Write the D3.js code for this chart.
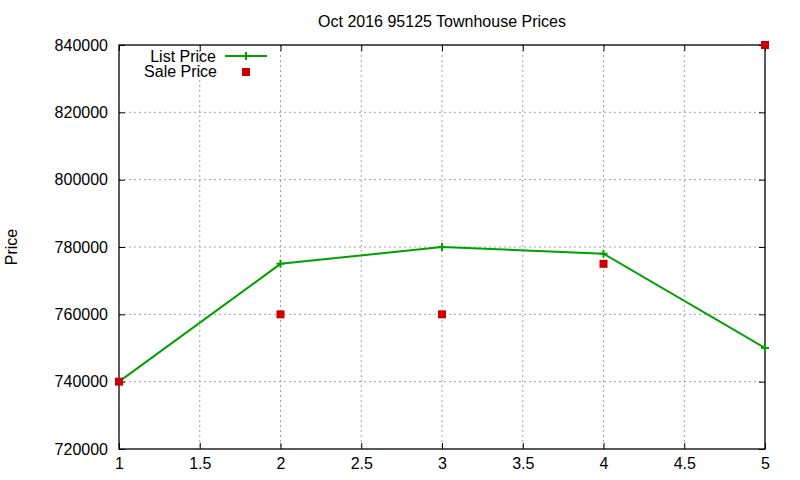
<!DOCTYPE html>
<html>
<head>
<meta charset="utf-8">
<script src="https://cdn.jsdelivr.net/npm/d3@7"></script>
<style>
  body { margin: 0; background: #fff; }
  svg { font-family: "Liberation Sans", Arial, sans-serif; }
</style>
</head>
<body>
<svg id="chart"></svg>
<script>
// data
var months = [1, 2, 3, 4, 5];
var listPrice = [740000, 775000, 780000, 778000, 750000];
var salePrice = [740000, 760000, 760000, 775000, 840000];
var xTicks = [1, 1.5, 2, 2.5, 3, 3.5, 4, 4.5, 5];
var yTicks = [720000, 740000, 760000, 780000, 800000, 820000, 840000];

var svgWidth = 800, svgHeight = 480;
var margin = {top: 45, right: 35, bottom: 31, left: 119};
var width = svgWidth - margin.left - margin.right;
var height = svgHeight - margin.top - margin.bottom;

var svg = d3.select("#chart").attr("width", svgWidth).attr("height", svgHeight);

var x = d3.scaleLinear().domain([1, 5]).range([0, width]);
var y = d3.scaleLinear().domain([720000, 840000]).range([height, 0]);

// title
svg.append("text")
    .attr("x", margin.left + width / 2)
    .attr("y", 27)
    .attr("text-anchor", "middle")
    .style("font-size", "16px")
    .text("Oct 2016 95125 Townhouse Prices");

var g = svg.append("g").attr("transform", "translate(" + margin.left + "," + margin.top + ")");

// grid
g.selectAll(".gx").data(xTicks.slice(1, -1)).enter().append("line")
    .attr("x1", function (d) { return x(d); }).attr("x2", function (d) { return x(d); })
    .attr("y1", 0).attr("y2", height)
    .attr("stroke", "#a0a0a0").attr("stroke-dasharray", "2,3");
g.selectAll(".gy").data(yTicks.slice(1, -1)).enter().append("line")
    .attr("y1", function (d) { return y(d); }).attr("y2", function (d) { return y(d); })
    .attr("x1", 0).attr("x2", width)
    .attr("stroke", "#a0a0a0").attr("stroke-dasharray", "2,3");

// axes, ticks inward and mirrored
function styleAxis(sel) {
    sel.select(".domain").remove();
    sel.selectAll(".tick line").attr("stroke", "#000");
    sel.selectAll(".tick text").style("font-size", "16px").attr("fill", "#000")
        .style("font-family", "Liberation Sans, Arial, sans-serif");
}
g.append("g").attr("transform", "translate(0," + height + ")")
    .call(d3.axisBottom(x).tickValues(xTicks).tickFormat(d3.format("")).tickSize(-6).tickPadding(9))
    .call(styleAxis);
g.append("g")
    .call(d3.axisTop(x).tickValues(xTicks).tickFormat("").tickSize(-6))
    .call(styleAxis);
g.append("g")
    .call(d3.axisLeft(y).tickValues(yTicks).tickFormat(d3.format("d")).tickSize(-6).tickPadding(11))
    .call(styleAxis);
g.append("g").attr("transform", "translate(" + width + ",0)")
    .call(d3.axisRight(y).tickValues(yTicks).tickFormat("").tickSize(-6))
    .call(styleAxis);

g.append("rect").attr("width", width).attr("height", height)
    .attr("fill", "none").attr("stroke", "#000").attr("stroke-width", 1.3);

// y label
svg.append("text")
    .attr("transform", "translate(17," + (margin.top + height / 2) + ") rotate(-90)")
    .attr("text-anchor", "middle")
    .style("font-size", "16px")
    .text("Price");

var green = "#00a000", red = "#cc0000";

// list price line
var line = d3.line()
    .x(function (d, i) { return x(months[i]); })
    .y(function (d) { return y(d); });
g.append("path").datum(listPrice)
    .attr("d", line).attr("fill", "none").attr("stroke", green).attr("stroke-width", 2);

function plus(sel, cx, cy) {
    sel.append("path")
        .attr("d", "M" + (cx - 4) + "," + cy + "H" + (cx + 4) + "M" + cx + "," + (cy - 4) + "V" + (cy + 4))
        .attr("stroke", green).attr("stroke-width", 2);
}
listPrice.forEach(function (d, i) { plus(g, x(months[i]), y(d)); });

// sale price points
g.selectAll(".sale").data(salePrice).enter().append("rect")
    .attr("x", function (d, i) { return x(months[i]) - 4; })
    .attr("y", function (d) { return y(d) - 4; })
    .attr("width", 8).attr("height", 8)
    .attr("fill", red);

// legend
var leg = svg.append("g");
leg.append("text").attr("x", 216).attr("y", 62).attr("text-anchor", "end")
    .style("font-size", "16px").text("List Price");
leg.append("line").attr("x1", 225).attr("x2", 267).attr("y1", 56).attr("y2", 56)
    .attr("stroke", green).attr("stroke-width", 2);
plus(leg, 246, 56);
leg.append("text").attr("x", 217).attr("y", 77).attr("text-anchor", "end")
    .style("font-size", "16px").text("Sale Price");
leg.append("rect").attr("x", 242).attr("y", 68).attr("width", 8).attr("height", 8).attr("fill", red);
</script>
</body>
</html>
